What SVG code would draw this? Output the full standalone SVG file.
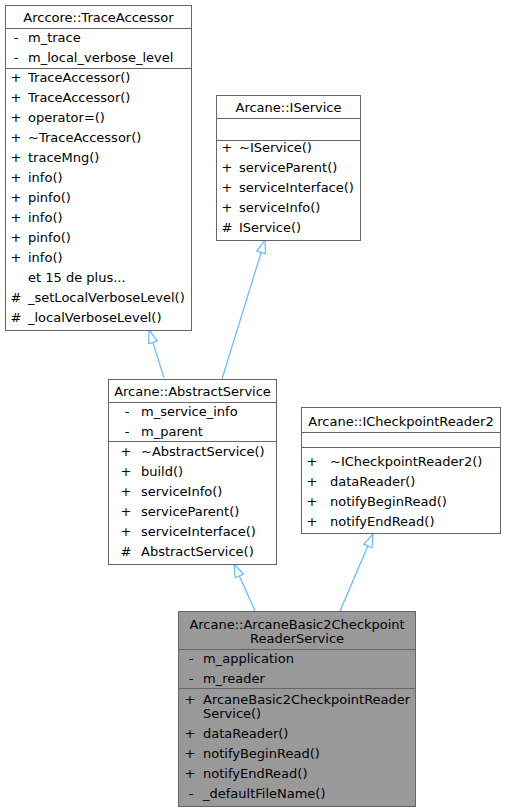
<svg xmlns="http://www.w3.org/2000/svg" width="506" height="812" viewBox="0 0 506 812">
<style>
text{font-family:"DejaVu Sans","Liberation Sans",sans-serif;font-size:13px;fill:#000}
.box{fill:#fff;stroke:#666;stroke-width:1}
.main{fill:#999;stroke:#666;stroke-width:1}
.sep{stroke:#666;stroke-width:1}
.c{text-anchor:middle}
.edge{fill:none;stroke:#63B8FF;stroke-width:1.2}
</style>
<defs>
<marker id="tri" markerUnits="userSpaceOnUse" markerWidth="18" markerHeight="14" refX="15" refY="7" orient="auto" overflow="visible">
<path d="M2,2.5 L15,7 L2,11.5 Z" fill="#fff" stroke="#63B8FF" stroke-width="1.2"/>
</marker>
</defs>
<rect width="506" height="812" fill="#fff"/>
<g id="edges">
<path class="edge" d="M164,378 L149,330" marker-end="url(#tri)"/>
<path class="edge" d="M222,379 L265,240" marker-end="url(#tri)"/>
<path class="edge" d="M255,611 L234,564" marker-end="url(#tri)"/>
<path class="edge" d="M340,611 L373,534" marker-end="url(#tri)"/>
</g>
<g id="TraceAccessor">
<rect class="box" x="5.5" y="5.5" width="186" height="325"/>
<line class="sep" x1="5.5" y1="28.5" x2="191.5" y2="28.5"/>
<line class="sep" x1="5.5" y1="68.5" x2="191.5" y2="68.5"/>
<text class="c" x="98.5" y="22">Arccore::TraceAccessor</text>
<text class="c" x="16" y="42">-</text><text x="28" y="42">m_trace</text>
<text class="c" x="16" y="62">-</text><text x="28" y="62">m_local_verbose_level</text>
<text class="c" x="16" y="82">+</text><text x="28" y="82">TraceAccessor()</text>
<text class="c" x="16" y="102">+</text><text x="28" y="102">TraceAccessor()</text>
<text class="c" x="16" y="122">+</text><text x="28" y="122">operator=()</text>
<text class="c" x="16" y="142">+</text><text x="28" y="142">~TraceAccessor()</text>
<text class="c" x="16" y="162">+</text><text x="28" y="162">traceMng()</text>
<text class="c" x="16" y="182">+</text><text x="28" y="182">info()</text>
<text class="c" x="16" y="202">+</text><text x="28" y="202">pinfo()</text>
<text class="c" x="16" y="222">+</text><text x="28" y="222">info()</text>
<text class="c" x="16" y="242">+</text><text x="28" y="242">pinfo()</text>
<text class="c" x="16" y="262">+</text><text x="28" y="262">info()</text>
<text x="28" y="282">et 15 de plus...</text>
<text class="c" x="16" y="302">#</text><text x="28" y="302">_setLocalVerboseLevel()</text>
<text class="c" x="16" y="322">#</text><text x="28" y="322">_localVerboseLevel()</text>
</g>
<g id="IService">
<rect class="box" x="216.5" y="95.5" width="144" height="145"/>
<line class="sep" x1="216.5" y1="118.5" x2="360.5" y2="118.5"/>
<line class="sep" x1="216.5" y1="140.5" x2="360.5" y2="140.5"/>
<text class="c" x="288.5" y="112">Arcane::IService</text>
<text class="c" x="227" y="152">+</text><text x="239" y="152">~IService()</text>
<text class="c" x="227" y="172">+</text><text x="239" y="172">serviceParent()</text>
<text class="c" x="227" y="192">+</text><text x="239" y="192">serviceInterface()</text>
<text class="c" x="227" y="212">+</text><text x="239" y="212">serviceInfo()</text>
<text class="c" x="227" y="232">#</text><text x="239" y="232">IService()</text>
</g>
<g id="AbstractService">
<rect class="box" x="108.5" y="379.5" width="168" height="185"/>
<line class="sep" x1="108.5" y1="402.5" x2="276.5" y2="402.5"/>
<line class="sep" x1="108.5" y1="441.5" x2="276.5" y2="441.5"/>
<text class="c" x="192.5" y="396">Arcane::AbstractService</text>
<text class="c" x="127" y="416">-</text><text x="141" y="416">m_service_info</text>
<text class="c" x="127" y="436">-</text><text x="141" y="436">m_parent</text>
<text class="c" x="126" y="455.5">+</text><text x="141" y="455.5">~AbstractService()</text>
<text class="c" x="126" y="475.5">+</text><text x="141" y="475.5">build()</text>
<text class="c" x="126" y="495.5">+</text><text x="141" y="495.5">serviceInfo()</text>
<text class="c" x="126" y="515.5">+</text><text x="141" y="515.5">serviceParent()</text>
<text class="c" x="126" y="535.5">+</text><text x="141" y="535.5">serviceInterface()</text>
<text class="c" x="126" y="555.5">#</text><text x="141" y="555.5">AbstractService()</text>
</g>
<g id="ICheckpointReader2">
<rect class="box" x="301.5" y="407.5" width="199" height="126"/>
<line class="sep" x1="301.5" y1="432.5" x2="500.5" y2="432.5"/>
<line class="sep" x1="301.5" y1="447.5" x2="500.5" y2="447.5"/>
<text class="c" x="401" y="425.5">Arcane::ICheckpointReader2</text>
<text class="c" x="312" y="466">+</text><text x="330" y="466">~ICheckpointReader2()</text>
<text class="c" x="312" y="486">+</text><text x="330" y="486">dataReader()</text>
<text class="c" x="312" y="505.5">+</text><text x="330" y="505.5">notifyBeginRead()</text>
<text class="c" x="312" y="525.5">+</text><text x="330" y="525.5">notifyEndRead()</text>
</g>
<g id="ArcaneBasic2CheckpointReaderService">
<rect class="main" x="178.5" y="611.5" width="237" height="195"/>
<line class="sep" x1="178.5" y1="649.5" x2="415.5" y2="649.5"/>
<line class="sep" x1="178.5" y1="688.5" x2="415.5" y2="688.5"/>
<text class="c" x="297" y="628.5">Arcane::ArcaneBasic2Checkpoint</text>
<text class="c" x="297" y="642.5">ReaderService</text>
<text class="c" x="191" y="662.5">-</text><text x="203" y="662.5">m_application</text>
<text class="c" x="191" y="682.5">-</text><text x="203" y="682.5">m_reader</text>
<text class="c" x="190" y="703.5">+</text><text x="203" y="703.5">ArcaneBasic2CheckpointReader</text>
<text x="203" y="717.5">Service()</text>
<text class="c" x="190" y="737.5">+</text><text x="203" y="737.5">dataReader()</text>
<text class="c" x="190" y="757.5">+</text><text x="203" y="757.5">notifyBeginRead()</text>
<text class="c" x="190" y="777.5">+</text><text x="203" y="777.5">notifyEndRead()</text>
<text class="c" x="191" y="797.5">-</text><text x="203" y="797.5">_defaultFileName()</text>
</g>
</svg>
